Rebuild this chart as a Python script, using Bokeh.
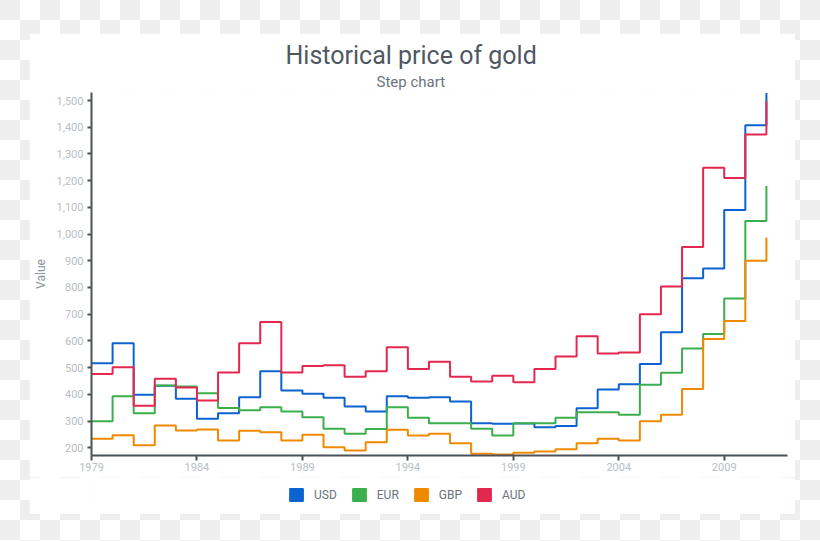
from bokeh.plotting import figure
from bokeh.models import (Range1d, FixedTicker, NumeralTickFormatter, Title,
                          Legend, LegendItem, ColumnDataSource, Spacer)
from bokeh.layouts import column, row
from bokeh.embed import file_html
from bokeh.resources import INLINE

years = list(range(1979, 2012))
usd = [516, 591, 398, 432, 383, 309, 329, 389, 486, 414, 402, 387, 354, 336, 393,
       387, 389, 373, 292, 290, 291, 277, 281, 348, 418, 438, 514, 632, 835, 871,
       1090, 1407, 1528]
eur = [299, 393, 329, 433, 429, 404, 349, 340, 352, 336, 314, 271, 252, 270, 352,
       312, 292, 292, 271, 246, 292, 292, 312, 333, 333, 324, 436, 481, 572, 626,
       759, 1049, 1180]
gbp = [234, 247, 209, 283, 265, 268, 227, 264, 258, 227, 249, 202, 190, 221, 267,
       246, 252, 217, 178, 175, 181, 186, 194, 217, 234, 227, 299, 324, 420, 607,
       675, 900, 987]
aud = [476, 501, 357, 458, 426, 377, 482, 591, 671, 482, 506, 509, 466, 486, 576,
       495, 522, 466, 448, 470, 445, 495, 542, 617, 553, 557, 700, 804, 952, 1248,
       1210, 1373, 1497]

series_names = ["USD", "EUR", "GBP", "AUD"]
colors = ["#0c63d0", "#3caf4d", "#ef8a00", "#e4274f"]
y_ticks = list(range(200, 1501, 100))
x_ticks = [1979, 1984, 1989, 1994, 1999, 2004, 2009]

src = ColumnDataSource(dict(year=years, USD=usd, EUR=eur, GBP=gbp, AUD=aud))

FONT = "Roboto"
CARD_W = 766

p = figure(width=CARD_W, height=444, output_backend="svg", toolbar_location=None,
           x_range=Range1d(1979, 2012), y_range=Range1d(171, 1530),
           min_border_left=62, min_border_right=8,
           min_border_top=59, min_border_bottom=22,
           background_fill_color="white", border_fill_color="white",
           outline_line_color=None)

p.title.visible = False
p.add_layout(Title(text="Step chart", align="left", text_font=FONT,
                   text_font_size="15px", text_font_style="normal",
                   text_color="#6b737c", standoff=3, offset=285), "above")
p.add_layout(Title(text="Historical price of gold", align="left", text_font=FONT,
                   text_font_size="25px", text_font_style="normal",
                   text_color="#4f5862", standoff=0, offset=194), "above")

p.xgrid.visible = False
p.ygrid.visible = False

for ax in (p.xaxis[0], p.yaxis[0]):
    ax.axis_line_color = "#4b5259"
    ax.axis_line_width = 2
    ax.major_tick_line_color = "#4b5259"
    ax.major_tick_line_width = 2
    ax.major_tick_out = 5
    ax.major_tick_in = 0
    ax.minor_tick_line_color = None
    ax.major_label_text_font = FONT
    ax.major_label_text_font_size = "11px"
    ax.major_label_text_color = "#b9bec4"

p.xaxis.ticker = FixedTicker(ticks=x_ticks)
p.yaxis.ticker = FixedTicker(ticks=y_ticks)
p.yaxis.formatter = NumeralTickFormatter(format="0,0")
p.yaxis.major_tick_out = 4
p.yaxis.major_label_standoff = 4
p.xaxis.major_label_standoff = 2
p.xaxis.axis_label = None
p.yaxis.axis_label = "Value"
p.yaxis.axis_label_text_font = FONT
p.yaxis.axis_label_text_font_size = "12px"
p.yaxis.axis_label_text_font_style = "normal"
p.yaxis.axis_label_text_color = "#8c9299"
p.yaxis.axis_label_standoff = 6

for name, c in zip(series_names, colors):
    p.step(x="year", y=name, source=src, mode="after", line_width=2, line_color=c)

# legend strip (part of the same white card)
lg = figure(width=CARD_W, height=37, output_backend="svg", toolbar_location=None,
            x_range=Range1d(0, 1), y_range=Range1d(0, 1),
            x_axis_location=None, y_axis_location=None,
            min_border=0, background_fill_color="white", border_fill_color="white",
            outline_line_color=None)
lg.xgrid.visible = False
lg.ygrid.visible = False
items = []
for name, c in zip(series_names, colors):
    r = lg.quad(left=[5], right=[6], top=[5], bottom=[4], fill_color=c,
                line_color=c, line_width=2, line_join="round")
    items.append(LegendItem(label=name, renderers=[r]))
legend = Legend(items=items, orientation="horizontal", location=(197, 12),
                glyph_width=16, glyph_height=15, label_height=15,
                label_text_font=FONT, label_text_font_size="12px",
                label_text_color="#6b737c", border_line_color=None,
                background_fill_alpha=0, padding=2, margin=0, spacing=14,
                label_standoff=10)
lg.add_layout(legend, "center")

layout = column(
    Spacer(width=820, height=33),
    row(Spacer(width=29, height=481), column(p, lg), Spacer(width=25, height=481)),
    Spacer(width=820, height=27),
    styles={"background": "repeating-conic-gradient(#ffffff 0% 25%, #eeeeee 0% 50%) 0 0 / 40px 40px"})

open("out.html", "w").write(file_html(layout, INLINE))
